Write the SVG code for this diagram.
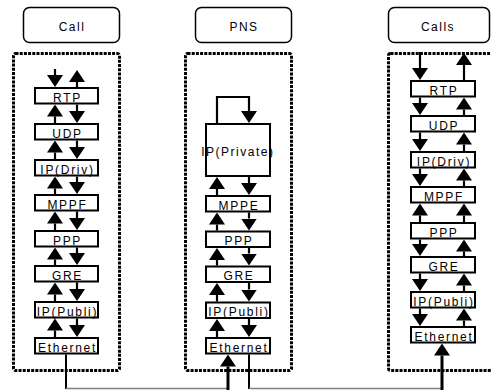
<svg xmlns="http://www.w3.org/2000/svg" width="491" height="390" viewBox="0 0 491 390">
<style>
.title{fill:#fff;stroke:#000;stroke-width:1.5}
.tt{font-family:"Liberation Sans",Arial,sans-serif;font-size:12px;letter-spacing:1.5px;text-anchor:middle;fill:#000}
.cont{fill:none;stroke:#000;stroke-width:3;stroke-dasharray:3 1.2}
.box{fill:#fff;stroke:#000;stroke-width:2}
.lbl{font-family:"Liberation Sans",Arial,sans-serif;font-size:12px;letter-spacing:1.7px;text-anchor:middle;fill:#000}
.a{stroke:#000;stroke-width:2.2;fill:none;marker-end:url(#h)}
.ak{stroke:#000;stroke-width:3;fill:none;marker-end:url(#h)}
.ln{stroke:#000;stroke-width:2;fill:none}
.gl{stroke:#808080;stroke-width:1.5;fill:none}
</style>
<defs>
<marker id="h" markerUnits="userSpaceOnUse" markerWidth="12" markerHeight="16" refX="0" refY="8" orient="auto">
<path d="M0,0 L12,8 L0,16 Z" fill="#000"/>
</marker>
</defs>

<g id="title-call"><rect class="title" x="23.5" y="7.5" width="96" height="35" rx="6"/><text class="tt" x="72" y="31">Call</text></g>
<g id="title-pns"><rect class="title" x="195.5" y="7.5" width="96" height="35" rx="6"/><text class="tt" x="244" y="31">PNS</text></g>
<g id="title-calls"><rect class="title" x="388.5" y="7.5" width="101" height="35" rx="6"/><text class="tt" x="438" y="31">Calls</text></g>

<g id="container-call"><rect class="cont" x="13.5" y="53.5" width="106" height="317" rx="2"/></g>
<g id="container-pns"><rect class="cont" x="185.5" y="53.5" width="106" height="317" rx="2"/></g>
<g id="container-calls"><rect class="cont" x="388.5" y="53.5" width="130" height="317" rx="2"/></g>

<g id="call-rtp"><rect class="box" x="35" y="88" width="63" height="15.5"/><text class="lbl" x="67.5" y="101.5">RTP</text></g>
<g id="call-udp"><rect class="box" x="35" y="124" width="63" height="15.5"/><text class="lbl" x="67.5" y="137.5">UDP</text></g>
<g id="call-ipdriv"><rect class="box" x="35" y="160" width="63" height="15.5"/><text class="lbl" x="67.5" y="173.5">IP(Driv)</text></g>
<g id="call-mppf"><rect class="box" x="35" y="195" width="63" height="15.5"/><text class="lbl" x="67.5" y="208.5">MPPF</text></g>
<g id="call-ppp"><rect class="box" x="35" y="231" width="63" height="15.5"/><text class="lbl" x="67.5" y="244.5">PPP</text></g>
<g id="call-gre"><rect class="box" x="35" y="266" width="63" height="15.5"/><text class="lbl" x="67.5" y="279.5">GRE</text></g>
<g id="call-ippubli"><rect class="box" x="35" y="302" width="63" height="15.5"/><text class="lbl" x="67.5" y="315.5">IP(Publi)</text></g>
<g id="call-ethernet"><rect class="box" x="35" y="338" width="63" height="15.5"/><text class="lbl" x="67.5" y="351.5">Ethernet</text></g>

<g id="pns-ipprivate"><rect class="box" x="206" y="124" width="64" height="52"/><text class="lbl" style="letter-spacing:1.5px" x="237.8" y="155.5">IP(Private)</text></g>
<g id="pns-mppe"><rect class="box" x="206" y="196" width="64" height="15.5"/><text class="lbl" x="239" y="209.5">MPPE</text></g>
<g id="pns-ppp"><rect class="box" x="206" y="231.5" width="64" height="15.5"/><text class="lbl" x="239" y="245">PPP</text></g>
<g id="pns-gre"><rect class="box" x="206" y="266.5" width="64" height="15.5"/><text class="lbl" x="239" y="280">GRE</text></g>
<g id="pns-ippubli"><rect class="box" x="206" y="302.5" width="64" height="15.5"/><text class="lbl" x="239" y="316">IP(Publi)</text></g>
<g id="pns-ethernet"><rect class="box" x="206" y="338" width="64" height="15.5"/><text class="lbl" x="239" y="351.5">Ethernet</text></g>

<g id="calls-rtp"><rect class="box" x="411" y="81" width="64" height="15.5"/><text class="lbl" x="444" y="94.5">RTP</text></g>
<g id="calls-udp"><rect class="box" x="411" y="116" width="64" height="15.5"/><text class="lbl" x="444" y="129.5">UDP</text></g>
<g id="calls-ipdriv"><rect class="box" x="411" y="152" width="64" height="15.5"/><text class="lbl" x="444" y="165.5">IP(Driv)</text></g>
<g id="calls-mppf"><rect class="box" x="411" y="187" width="64" height="15.5"/><text class="lbl" x="444" y="200.5">MPPF</text></g>
<g id="calls-ppp"><rect class="box" x="411" y="223" width="64" height="15.5"/><text class="lbl" x="444" y="236.5">PPP</text></g>
<g id="calls-gre"><rect class="box" x="411" y="257" width="64" height="15.5"/><text class="lbl" x="444" y="270.5">GRE</text></g>
<g id="calls-ippubli"><rect class="box" x="411" y="292" width="64" height="15.5"/><text class="lbl" x="444" y="305.5">IP(Publi)</text></g>
<g id="calls-ethernet"><rect class="box" x="411" y="327" width="64" height="15.5"/><text class="lbl" x="444" y="340.5">Ethernet</text></g>

<g id="connectors">
<line class="a" x1="55" y1="69" x2="55" y2="75"/>
<line class="a" x1="77" y1="87" x2="77" y2="82"/>
<line class="a" x1="55" y1="123" x2="55" y2="116.5"/><line class="a" x1="77" y1="104.5" x2="77" y2="111"/>
<line class="a" x1="55" y1="159" x2="55" y2="152.5"/><line class="a" x1="77" y1="140.5" x2="77" y2="147"/>
<line class="a" x1="55" y1="194" x2="55" y2="188.5"/><line class="a" x1="77" y1="176.5" x2="77" y2="182"/>
<line class="a" x1="55" y1="230" x2="55" y2="223.5"/><line class="a" x1="77" y1="211.5" x2="77" y2="218"/>
<line class="a" x1="55" y1="265" x2="55" y2="259.5"/><line class="a" x1="77" y1="247.5" x2="77" y2="253"/>
<line class="a" x1="55" y1="301" x2="55" y2="294.5"/><line class="a" x1="77" y1="282.5" x2="77" y2="289"/>
<line class="a" x1="55" y1="337" x2="55" y2="330.5"/><line class="a" x1="77" y1="318.5" x2="77" y2="325"/>
<polyline class="a" points="217,123 217,97 249,97 249,111"/>
<line class="a" x1="217" y1="195" x2="217" y2="189"/><line class="a" x1="249" y1="177" x2="249" y2="183"/>
<line class="a" x1="217" y1="230.5" x2="217" y2="224.5"/><line class="a" x1="249" y1="212.5" x2="249" y2="218.5"/>
<line class="a" x1="217" y1="265.5" x2="217" y2="260"/><line class="a" x1="249" y1="248" x2="249" y2="253.5"/>
<line class="a" x1="217" y1="301.5" x2="217" y2="295"/><line class="a" x1="249" y1="283" x2="249" y2="289.5"/>
<line class="a" x1="217" y1="337" x2="217" y2="331"/><line class="a" x1="249" y1="319" x2="249" y2="325"/>
<line class="a" x1="420" y1="52" x2="420" y2="68"/>
<line class="a" x1="464" y1="80" x2="464" y2="65"/>
<line class="a" x1="420" y1="97.5" x2="420" y2="103"/><line class="a" x1="464" y1="115" x2="464" y2="109.5"/>
<line class="a" x1="420" y1="132.5" x2="420" y2="139"/><line class="a" x1="464" y1="151" x2="464" y2="144.5"/>
<line class="a" x1="420" y1="168.5" x2="420" y2="174"/><line class="a" x1="464" y1="186" x2="464" y2="180.5"/>
<line class="a" x1="420" y1="222" x2="420" y2="215.5"/><line class="a" x1="464" y1="222" x2="464" y2="215.5"/>
<line class="a" x1="420" y1="239.5" x2="420" y2="244"/><line class="a" x1="464" y1="256" x2="464" y2="251.5"/>
<line class="a" x1="420" y1="273.5" x2="420" y2="279"/><line class="a" x1="464" y1="291" x2="464" y2="285.5"/>
<line class="a" x1="420" y1="308.5" x2="420" y2="314"/><line class="a" x1="464" y1="326" x2="464" y2="320.5"/>
<line class="ln" x1="66" y1="354.5" x2="66" y2="389"/>
<line class="gl" x1="66" y1="388.5" x2="228" y2="388.5"/>
<line class="ak" x1="228" y1="391" x2="228" y2="366.5"/>
<line class="ln" x1="249" y1="354.5" x2="249" y2="389"/>
<line class="gl" x1="249" y1="388.5" x2="442" y2="388.5"/>
<line class="ak" x1="442" y1="391" x2="442" y2="355.5"/>
</g>
</svg>
